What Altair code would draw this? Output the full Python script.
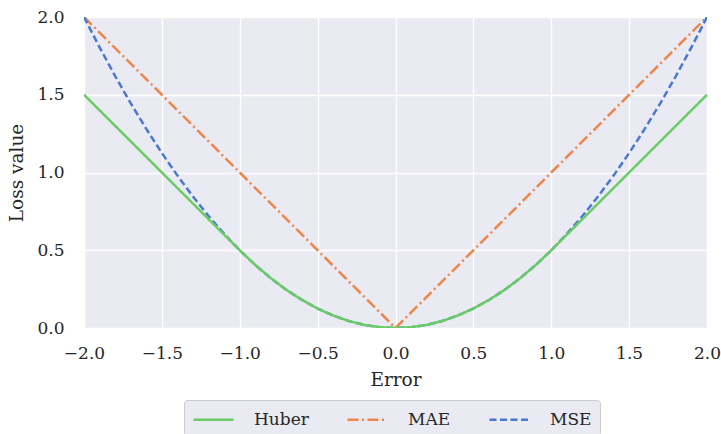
import altair as alt
import pandas as pd

x_vals = [-2.0, -1.9, -1.8, -1.7, -1.6, -1.5, -1.4, -1.3, -1.2, -1.1, -1.0,
          -0.9, -0.8, -0.7, -0.6, -0.5, -0.4, -0.3, -0.2, -0.1, 0.0,
          0.1, 0.2, 0.3, 0.4, 0.5, 0.6, 0.7, 0.8, 0.9, 1.0,
          1.1, 1.2, 1.3, 1.4, 1.5, 1.6, 1.7, 1.8, 1.9, 2.0]

mae_vals = [2.0, 1.9, 1.8, 1.7, 1.6, 1.5, 1.4, 1.3, 1.2, 1.1, 1.0,
            0.9, 0.8, 0.7, 0.6, 0.5, 0.4, 0.3, 0.2, 0.1, 0.0,
            0.1, 0.2, 0.3, 0.4, 0.5, 0.6, 0.7, 0.8, 0.9, 1.0,
            1.1, 1.2, 1.3, 1.4, 1.5, 1.6, 1.7, 1.8, 1.9, 2.0]

mse_vals = [2.0, 1.805, 1.62, 1.445, 1.28, 1.125, 0.98, 0.845, 0.72, 0.605, 0.5,
            0.405, 0.32, 0.245, 0.18, 0.125, 0.08, 0.045, 0.02, 0.005, 0.0,
            0.005, 0.02, 0.045, 0.08, 0.125, 0.18, 0.245, 0.32, 0.405, 0.5,
            0.605, 0.72, 0.845, 0.98, 1.125, 1.28, 1.445, 1.62, 1.805, 2.0]

huber_vals = [1.5, 1.4, 1.3, 1.2, 1.1, 1.0, 0.9, 0.8, 0.7, 0.6, 0.5,
              0.405, 0.32, 0.245, 0.18, 0.125, 0.08, 0.045, 0.02, 0.005, 0.0,
              0.005, 0.02, 0.045, 0.08, 0.125, 0.18, 0.245, 0.32, 0.405, 0.5,
              0.6, 0.7, 0.8, 0.9, 1.0, 1.1, 1.2, 1.3, 1.4, 1.5]

series_names = ["Huber", "MAE", "MSE"]
series_colors = ["#6acc64", "#ee854a", "#4878d0"]
series_dashes = [[1, 0], [11, 3.5, 2, 3.5], [7, 3.5]]

rows = []
# drawing order: MAE, MSE, then Huber on top
for name, vals in [("MAE", mae_vals), ("MSE", mse_vals), ("Huber", huber_vals)]:
    for xv, yv in zip(x_vals, vals):
        rows.append({"Error": xv, "Loss": yv, "Series": name})
df = pd.DataFrame(rows)

FONT = "DejaVu Serif"

legend_opts = dict(
    title=None,
    orient="none",
    legendX=100,
    legendY=383,
    direction="horizontal",
    columns=3,
    symbolType="M-2,0H2",
    symbolSize=400,
    symbolOffset=10,
    symbolStrokeWidth=2.5,
    labelFont=FONT,
    labelFontSize=17,
    labelColor="#262626",
    labelOffset=29,
    columnPadding=33,
    padding=8,
    fillColor="#eaeaf2",
    strokeColor="#cccccc",
    cornerRadius=3,
)

chart = alt.Chart(df).mark_line(strokeWidth=2.5, clip=True).encode(
    x=alt.X("Error:Q", scale=alt.Scale(domain=[-2, 2], nice=False),
            axis=alt.Axis(title="Error", values=[-2, -1.5, -1, -0.5, 0, 0.5, 1, 1.5, 2],
                          format=".1f")),
    y=alt.Y("Loss:Q", scale=alt.Scale(domain=[0, 2], nice=False),
            axis=alt.Axis(title="Loss value", values=[0, 0.5, 1, 1.5, 2], format=".1f")),
    color=alt.Color("Series:N", scale=alt.Scale(domain=series_names, range=series_colors),
                    legend=alt.Legend(**legend_opts)),
    strokeDash=alt.StrokeDash("Series:N", scale=alt.Scale(domain=series_names, range=series_dashes),
                              legend=alt.Legend(**legend_opts)),
    detail="Series:N",
).properties(
    width=623,
    height=311,
    autosize=alt.AutoSizeParams(type="none"),
    padding={"left": 84, "top": 17, "right": 14, "bottom": 106},
).configure_view(
    fill="#eaeaf2", stroke=None
).configure_axis(
    grid=True, gridColor="white", gridWidth=1.3, domain=False, ticks=False,
    labelFont=FONT, labelFontSize=17, labelColor="#262626",
    labelFlush=False, labelOverlap=False, labelBound=False,
    titleFont=FONT, titleFontSize=18.5, titleFontWeight="normal", titleColor="#262626",
).configure_axisX(
    labelPadding=17, titlePadding=9
).configure_axisY(
    labelPadding=20, titlePadding=10
)

chart.save("out.html", embed_options={"renderer": "svg", "actions": False})
